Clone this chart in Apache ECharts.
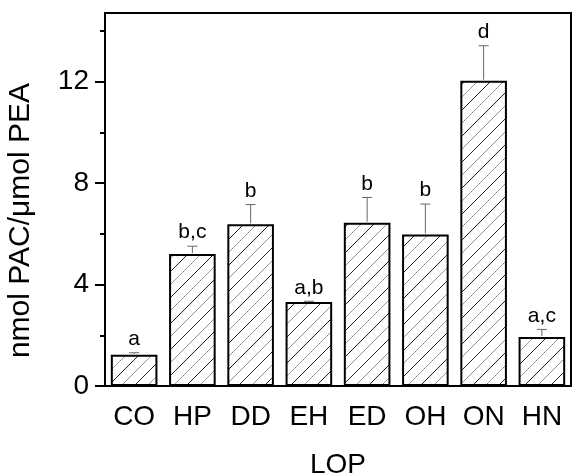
<!DOCTYPE html>
<html>
<head>
<meta charset="utf-8">
<script src="https://cdn.jsdelivr.net/npm/echarts@6/dist/echarts.min.js"></script>
<style>
  html, body { margin: 0; padding: 0; background: #fff; }
  #chart { width: 572px; height: 474px; }
</style>
</head>
<body>
<div id="chart"></div>
<script>
// chart data
const categories = ['CO', 'HP', 'DD', 'EH', 'ED', 'OH', 'ON', 'HN'];
const means = [1.23, 5.2, 6.37, 3.31, 6.43, 5.97, 12.03, 1.93];
const errors = [0.08, 0.31, 0.78, 0.03, 1.0, 1.2, 1.38, 0.3];
const letters = ['a', 'b,c', 'b', 'a,b', 'b', 'b', 'd', 'a,c'];
const yTicks = [0, 4, 8, 12];

const FONT = '"Liberation Sans", Arial, sans-serif';

// diagonal hatch, black and grey lines alternating
const makeHatch = () => {
    const s = 26;
    const c = document.createElement('canvas');
    c.width = s;
    c.height = s;
    const ctx = c.getContext('2d');
    ctx.fillStyle = '#fff';
    ctx.fillRect(0, 0, s, s);
    ctx.lineWidth = 1;
    ctx.strokeStyle = '#222';
    ctx.beginPath();
    ctx.moveTo(-1, s + 1);
    ctx.lineTo(s + 1, -1);
    ctx.stroke();
    ctx.strokeStyle = '#999';
    ctx.beginPath();
    ctx.moveTo(-1, s / 2 + 1);
    ctx.lineTo(s / 2 + 1, -1);
    ctx.moveTo(s / 2 - 1, s + 1);
    ctx.lineTo(s + 1, s / 2 - 1);
    ctx.stroke();
    return c;
};

const chart = echarts.init(document.getElementById('chart'));

const option = {
    animation: false,
    backgroundColor: '#fff',
    grid: {
        left: 105,
        right: 1,
        top: 13,
        bottom: 88,
        containLabel: false,
        outerBoundsMode: 'none',
        show: true,
        borderColor: '#000',
        borderWidth: 2,
        backgroundColor: 'transparent'
    },
    xAxis: [{
        type: 'category',
        data: categories,
        boundaryGap: true,
        name: 'LOP',
        nameLocation: 'middle',
        nameGap: 65,
        nameTextStyle: { fontFamily: FONT, fontSize: 28, color: '#000' },
        axisLine: { lineStyle: { color: '#000', width: 2 } },
        axisTick: { alignWithLabel: true, length: 10, lineStyle: { color: '#000', width: 2 } },
        axisLabel: { fontFamily: FONT, fontSize: 28, color: '#000', margin: 17 }
    }, {
        // short ticks between categories
        type: 'category',
        data: categories,
        position: 'bottom',
        axisLine: { show: false },
        axisTick: { length: 5, lineStyle: { color: '#000', width: 2 } },
        axisLabel: { show: false }
    }],
    yAxis: {
        type: 'value',
        min: 0,
        max: 14.7,
        interval: 4,
        name: 'nmol PAC/\u03bcmol PEA',
        nameLocation: 'middle',
        nameGap: 69,
        nameTextStyle: { fontFamily: FONT, fontSize: 30, color: '#000', padding: [0, 42, 0, 0] },
        axisLine: { show: true, lineStyle: { color: '#000', width: 2 } },
        axisTick: { show: true, length: 10, lineStyle: { color: '#000', width: 2 } },
        minorTick: { show: true, splitNumber: 2, length: 5, lineStyle: { color: '#000', width: 2 } },
        splitLine: { show: false },
        axisLabel: {
            fontFamily: FONT, fontSize: 28, color: '#000', margin: 16,
            formatter: (v) => yTicks.includes(v) ? String(v) : ''
        }
    },
    graphic: [{
        // hide the extra tick ECharts puts at the axis max
        type: 'rect',
        left: 90,
        top: 7,
        shape: { width: 14, height: 12 },
        style: { fill: '#fff' },
        z: 100
    }],
    series: [{
        type: 'bar',
        data: means,
        barWidth: '80%',
        itemStyle: {
            color: { image: makeHatch(), repeat: 'repeat' },
            borderColor: '#000',
            borderWidth: 2
        },
        z: 2
    }, {
        type: 'custom',
        data: means.map((m, i) => [i, m, m + errors[i]]),
        z: 3,
        renderItem: (params, api) => {
            const base = api.coord([api.value(0), api.value(1)]);
            const top = api.coord([api.value(0), api.value(2)]);
            const st = { stroke: '#666', lineWidth: 1 };
            return {
                type: 'group',
                children: [
                    { type: 'line', shape: { x1: base[0], y1: base[1] - 1, x2: top[0], y2: top[1] }, style: st },
                    { type: 'line', shape: { x1: top[0] - 5, y1: top[1], x2: top[0] + 5, y2: top[1] }, style: st },
                    {
                        type: 'text',
                        x: top[0],
                        y: top[1] - 3,
                        style: {
                            text: letters[params.dataIndex],
                            fill: '#000',
                            font: '21px ' + FONT,
                            align: 'center',
                            verticalAlign: 'bottom'
                        }
                    }
                ]
            };
        }
    }]
};

chart.setOption(option);
</script>
</body>
</html>
